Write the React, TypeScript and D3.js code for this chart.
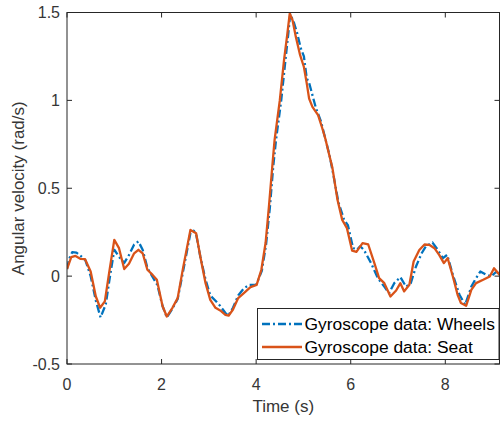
import React from "react";
import * as d3 from "d3";

const wheelsTime = [0.00,0.05,0.11,0.20,0.32,0.39,0.50,0.61,0.71,0.82,0.91,1.00,1.10,1.21,1.31,1.42,1.51,1.60,1.70,1.81,1.91,2.02,2.11,2.23,2.34,2.45,2.61,2.68,2.73,2.82,2.93,3.03,3.14,3.24,3.35,3.41,3.51,3.62,3.74,3.85,4.00,4.12,4.21,4.29,4.36,4.42,4.53,4.62,4.68,4.72,4.79,4.87,4.94,5.01,5.07,5.12,5.26,5.37,5.47,5.55,5.63,5.74,5.86,5.94,6.05,6.13,6.20,6.28,6.43,6.57,6.71,6.81,6.92,7.05,7.17,7.27,7.38,7.50,7.59,7.73,7.84,7.95,8.04,8.16,8.30,8.42,8.55,8.63,8.74,8.87,8.97,9.08,9.15];
const wheelsValues = [0.04,0.10,0.136,0.134,0.108,0.09,0.0,-0.14,-0.235,-0.16,0.0,0.15,0.11,0.075,0.12,0.18,0.197,0.15,0.047,-0.005,-0.05,-0.17,-0.235,-0.185,-0.13,0.02,0.245,0.258,0.24,0.11,-0.02,-0.11,-0.14,-0.17,-0.21,-0.225,-0.18,-0.11,-0.07,-0.05,-0.05,0.03,0.18,0.39,0.62,0.775,1.0,1.23,1.38,1.49,1.45,1.38,1.30,1.25,1.125,1.10,0.96,0.88,0.775,0.69,0.58,0.42,0.32,0.29,0.16,0.15,0.17,0.149,0.074,-0.01,-0.06,-0.097,-0.04,-0.006,-0.06,-0.04,0.055,0.13,0.17,0.191,0.15,0.102,0.121,0.007,-0.106,-0.163,-0.06,-0.021,0.026,0.007,-0.002,0.026,0.01];

const seatTime = [0.00,0.09,0.18,0.29,0.38,0.50,0.61,0.70,0.80,0.89,1.00,1.10,1.21,1.31,1.42,1.51,1.60,1.70,1.81,1.90,2.02,2.11,2.23,2.34,2.45,2.61,2.73,2.82,2.93,3.03,3.14,3.24,3.35,3.42,3.51,3.62,3.74,3.88,4.01,4.11,4.20,4.27,4.34,4.39,4.50,4.59,4.66,4.71,4.77,4.84,4.93,5.01,5.07,5.12,5.19,5.31,5.40,5.47,5.52,5.61,5.72,5.82,5.92,6.03,6.12,6.25,6.37,6.50,6.60,6.71,6.84,6.96,7.05,7.13,7.24,7.33,7.45,7.56,7.66,7.77,7.87,7.97,8.05,8.16,8.26,8.33,8.44,8.55,8.65,8.80,8.94,9.03,9.15];
const seatValues = [0.04,0.108,0.115,0.098,0.097,0.026,-0.116,-0.18,-0.144,0.017,0.206,0.159,0.04,0.07,0.13,0.15,0.13,0.036,0.007,-0.021,-0.17,-0.23,-0.18,-0.125,0.04,0.263,0.244,0.11,-0.04,-0.135,-0.18,-0.195,-0.22,-0.225,-0.19,-0.125,-0.097,-0.063,-0.05,0.036,0.19,0.395,0.62,0.775,1.0,1.23,1.38,1.494,1.456,1.36,1.257,1.19,1.097,1.01,0.963,0.916,0.84,0.775,0.718,0.62,0.434,0.32,0.273,0.145,0.138,0.188,0.18,0.074,-0.011,-0.04,-0.116,-0.082,-0.04,-0.087,-0.049,0.083,0.149,0.18,0.178,0.159,0.121,0.074,0.102,-0.002,-0.106,-0.153,-0.169,-0.078,-0.04,-0.021,-0.002,0.045,0.007];

const xTicks = [0, 2, 4, 6, 8];
const yTicks = [-0.5, 0, 0.5, 1, 1.5];
const xDomain = [0, 9.146];
const yDomain = [-0.5, 1.5];
const legendLabels = ["Gyroscope data: Wheels", "Gyroscope data: Seat"];

const W = 500, H = 421;
const L = 67, R = 499.5, T = 12.5, B = 364;
const AX = "#262626";
const TXT = "#363636";
const BLUE = "#0072BD";
const ORANGE = "#D95319";
const FONT = "'Liberation Sans', Arial, Helvetica, sans-serif";

export default function App() {
  const x = d3.scaleLinear().domain(xDomain).range([L, R]);
  const y = d3.scaleLinear().domain(yDomain).range([B, T]);
  const line = d3.line<[number, number]>().x(d => x(d[0])).y(d => y(d[1]));
  const wheels = wheelsTime.map((t, i) => [t, wheelsValues[i]] as [number, number]);
  const seat = seatTime.map((t, i) => [t, seatValues[i]] as [number, number]);
  const tl = 5;
  const fmt = (v: number) => String(v);
  const lgX = 257.5, lgY = 308.5, lgW = 241.5, lgH = 51;
  return (
    <svg width={W} height={H} style={{ position: "absolute", left: 0, top: 0, background: "#fff" }} fontFamily={FONT}>
      <rect x={0} y={0} width={W} height={H} fill="#fff" />
      <defs>
        <clipPath id="plotclip"><rect x={L} y={T} width={R - L} height={B - T} /></clipPath>
      </defs>
      <g clipPath="url(#plotclip)">
        <path d={line(wheels) || ""} fill="none" stroke={BLUE} strokeWidth={2.3} strokeDasharray="8,3,2,3" strokeLinejoin="round" />
        <path d={line(seat) || ""} fill="none" stroke={ORANGE} strokeWidth={2.3} strokeLinejoin="round" />
      </g>
      <rect x={L} y={T} width={R - L} height={B - T} fill="none" stroke={AX} strokeWidth={1} />
      {xTicks.map(v => (
        <g key={"x" + v}>
          <line x1={x(v)} x2={x(v)} y1={B} y2={B - tl} stroke={AX} strokeWidth={1} />
          <line x1={x(v)} x2={x(v)} y1={T} y2={T + tl} stroke={AX} strokeWidth={1} />
          <text x={x(v)} y={389.5} textAnchor="middle" fontSize={16} fill={TXT}>{fmt(v)}</text>
        </g>
      ))}
      {yTicks.map(v => (
        <g key={"y" + v}>
          <line x1={L} x2={L + tl} y1={y(v)} y2={y(v)} stroke={AX} strokeWidth={1} />
          <line x1={R} x2={R - tl} y1={y(v)} y2={y(v)} stroke={AX} strokeWidth={1} />
          <text x={60} y={y(v) + 5.5} textAnchor="end" fontSize={16} fill={TXT}>{fmt(v)}</text>
        </g>
      ))}
      <text x={(L + R) / 2} y={412} textAnchor="middle" fontSize={17} fill={TXT}>Time (s)</text>
      <text transform={`translate(24,${(T + B) / 2}) rotate(-90)`} textAnchor="middle" fontSize={17} fill={TXT}>Angular velocity (rad/s)</text>
      <rect x={lgX} y={lgY} width={lgW} height={lgH} fill="#fff" stroke={AX} strokeWidth={1} />
      <line x1={262} x2={302} y1={324} y2={324} stroke={BLUE} strokeWidth={2.3} strokeDasharray="8,3,2,3" />
      <line x1={262} x2={302} y1={347} y2={347} stroke={ORANGE} strokeWidth={2.3} />
      <text x={304.5} y={330} fontSize={17.4} fill="#000">{legendLabels[0]}</text>
      <text x={304.5} y={353} fontSize={17.4} fill="#000">{legendLabels[1]}</text>
    </svg>
  );
}
